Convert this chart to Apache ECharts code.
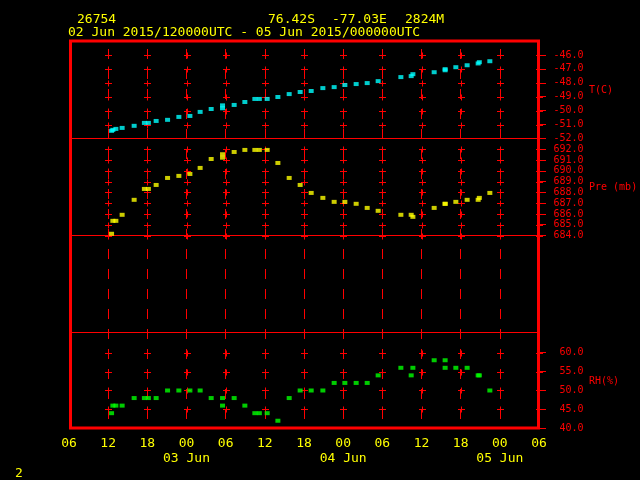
<!DOCTYPE html>
<html><head><meta charset="utf-8">
<script src="https://cdn.jsdelivr.net/npm/echarts@6/dist/echarts.min.js"></script>
<style>html,body{margin:0;padding:0;background:#000;}#c{width:640px;height:480px;}</style>
</head><body><div id="c"></div>
<script>
// hours since 02 Jun 2015 00 UTC
const hours = [12.52,12.72,13.18,14.14,15.98,17.55,18.16,19.35,21.10,22.83,24.52,26.09,27.78,29.52,29.52,31.30,32.94,34.47,35.16,36.36,38.00,39.73,41.41,43.10,44.89,46.62,48.26,49.99,51.68,53.36,56.84,58.42,58.68,61.94,63.62,63.62,65.26,66.99,68.68,68.86,70.47];
const tempC = [-51.45,-51.38,-51.31,-51.24,-51.09,-50.88,-50.88,-50.74,-50.66,-50.45,-50.38,-50.09,-49.88,-49.62,-49.83,-49.59,-49.38,-49.16,-49.16,-49.16,-49.02,-48.81,-48.66,-48.59,-48.38,-48.31,-48.16,-48.09,-48.02,-47.88,-47.59,-47.52,-47.38,-47.24,-47.10,-47.02,-46.88,-46.74,-46.61,-46.52,-46.45];
const presMb = [684.16,685.36,685.36,685.92,687.31,688.32,688.32,688.69,689.34,689.53,689.71,690.27,691.10,691.54,691.22,691.75,691.94,691.94,691.94,691.94,690.73,689.34,688.69,687.95,687.49,687.12,687.12,686.94,686.56,686.29,685.92,685.92,685.73,686.56,686.94,686.94,687.12,687.31,687.31,687.49,687.95];
const rhPct = [44,46,46,46,48,48,48,48,50,50,50,50,48,48,46,48,46,44,44,44,42,48,50,50,50,52,52,52,52,54,56,54,56,58,58,56,56,56,54,54,50];

const xTicks = [6,12,18,24,30,36,42,48,54,60,66,72,78];
const dateLabels = {24:'03 Jun', 48:'04 Jun', 72:'05 Jun'};
const tTicks = [-52,-51,-50,-49,-48,-47,-46];
const pTicks = [684,685,686,687,688,689,690,691,692];
const rhTicks = [40,45,50,55,60];
const pRefLine = 684;

const headerStation = '26754';
const headerLat = '76.42S', headerLon = '-77.03E', headerElev = '2824M';
const headerPeriod = '02 Jun 2015/120000UTC - 05 Jun 2015/000000UTC';

const MONO = '"DejaVu Sans Mono", "Liberation Mono", monospace';
const RED = '#ff0000', YEL = '#ffff00';

function pairs(ys){ return hours.map((h,i)=>[h, ys[i]]); }
function crosses(levels){
  const out = [];
  xTicks.filter(h=>h>6).forEach(h=>levels.forEach(v=>out.push([h,v])));
  return out;
}
function crossRender(params, api){
  const p = api.coord([api.value(0), api.value(1)]);
  const x = Math.round(p[0]) + 0.5, y = Math.round(p[1]) + 0.5;
  return {type:'group', children:[
    {type:'line', shape:{x1:x-3.5, y1:y, x2:x+3.5, y2:y}, style:{stroke:RED, lineWidth:1}},
    {type:'line', shape:{x1:x, y1:y-3, x2:x, y2:y+3}, style:{stroke:RED, lineWidth:1}}
  ]};
}
function pad(n){ n = ((n%24)+24)%24; return (n<10?'0':'') + n; }

const L = 69, W = 470;
const grids = [
  {left:L, top:42, width:W, height:386.3},      // frame / x labels / dashed verticals
  {left:L, top:42, width:W, height:96.5},       // T
  {left:L, top:138.5, width:W, height:194},     // Pre
  {left:L, top:332.5, width:W, height:95.8}     // RH
].map(g=>Object.assign({show:false, containLabel:false, outerBoundsMode:'none'}, g));

function hiddenX(gi){
  return {gridIndex:gi, type:'value', min:6, max:78, interval:6, show:false};
}
function rightY(gi, min, max, ticks){
  return {gridIndex:gi, type:'value', position:'right', min:min, max:max,
    axisLine:{show:false}, splitLine:{show:false},
    axisTick:{show:true, inside:false, length:7, customValues:ticks, lineStyle:{color:RED, width:1}},
    axisLabel:{show:true, customValues:ticks, color:RED, fontFamily:MONO, fontSize:10, align:'right', margin:44.5,
      formatter:v=>Number(v).toFixed(1)}};
}

const option = {
  backgroundColor:'#000',
  animation:false,
  grid: grids,
  xAxis: [
    {gridIndex:0, type:'value', min:6, max:78, interval:6,
      axisLine:{show:false}, axisTick:{show:false},
      axisLabel:{show:true, showMinLabel:true, showMaxLabel:true, color:YEL, fontFamily:MONO, fontSize:13, lineHeight:15, margin:8,
        formatter:v=>pad(v) + (dateLabels[v] ? '\n' + dateLabels[v] : '')},
      splitLine:{show:true, lineStyle:{color:RED, width:1, type:[10,10], dashOffset:13}}},
    hiddenX(1), hiddenX(2), hiddenX(3)
  ],
  yAxis: [
    {gridIndex:0, type:'value', min:0, max:1, show:false},
    rightY(1, -52, -45.07, tTicks),
    rightY(2, 675, 693, pTicks),
    rightY(3, 40, 65.34, rhTicks)
  ],
  series: [
    {type:'custom', xAxisIndex:1, yAxisIndex:1, data:crosses(tTicks.filter(v=>v>-52)), renderItem:crossRender, silent:true, z:1},
    {type:'custom', xAxisIndex:2, yAxisIndex:2, data:crosses(pTicks), renderItem:crossRender, silent:true, z:1},
    {type:'custom', xAxisIndex:3, yAxisIndex:3, data:crosses(rhTicks.filter(v=>v>40)), renderItem:crossRender, silent:true, z:1},
    {name:'T(C)', type:'scatter', xAxisIndex:1, yAxisIndex:1, data:pairs(tempC), symbol:'rect', symbolSize:[5,4],
      itemStyle:{color:'#00ffff'}, silent:true, z:5},
    {name:'Pre (mb)', type:'scatter', xAxisIndex:2, yAxisIndex:2, data:pairs(presMb), symbol:'rect', symbolSize:[5,4],
      itemStyle:{color:YEL}, silent:true, z:5,
      markLine:{silent:true, symbol:'none', label:{show:false}, animation:false,
        lineStyle:{color:RED, width:1, type:'solid'}, data:[{yAxis:pRefLine}]}},
    {name:'RH(%)', type:'scatter', xAxisIndex:3, yAxisIndex:3, data:pairs(rhPct), symbol:'rect', symbolSize:[5,4],
      itemStyle:{color:'#00ff00'}, silent:true, z:5}
  ],
  graphic: [
    {type:'rect', shape:{x:70.5, y:41, width:468, height:387}, style:{stroke:RED, fill:null, lineWidth:3}, z:100, silent:true},
    {type:'line', shape:{x1:70, y1:138.5, x2:538, y2:138.5}, style:{stroke:RED, lineWidth:1}, z:100, silent:true},
    {type:'line', shape:{x1:70, y1:332.5, x2:538, y2:332.5}, style:{stroke:RED, lineWidth:1}, z:100, silent:true},
    {type:'text', x:77, y:19.5, style:{text:headerStation, fill:YEL, font:'13px ' + MONO, verticalAlign:'middle'}},
    {type:'text', x:268, y:19.5, style:{text:headerLat, fill:YEL, font:'13px ' + MONO, verticalAlign:'middle'}},
    {type:'text', x:332, y:19.5, style:{text:headerLon, fill:YEL, font:'13px ' + MONO, verticalAlign:'middle'}},
    {type:'text', x:405, y:19.5, style:{text:headerElev, fill:YEL, font:'13px ' + MONO, verticalAlign:'middle'}},
    {type:'text', x:68, y:32.8, style:{text:headerPeriod, fill:YEL, font:'13px ' + MONO, verticalAlign:'middle'}},
    {type:'text', x:589, y:90.5, style:{text:'T(C)', fill:RED, font:'10px ' + MONO, verticalAlign:'middle'}},
    {type:'text', x:589, y:187, style:{text:'Pre (mb)', fill:RED, font:'10px ' + MONO, verticalAlign:'middle'}},
    {type:'text', x:589, y:381.5, style:{text:'RH(%)', fill:RED, font:'10px ' + MONO, verticalAlign:'middle'}},
    {type:'text', x:15, y:474, style:{text:'2', fill:YEL, font:'13px ' + MONO, verticalAlign:'middle'}}
  ]
};
const chart = echarts.init(document.getElementById('c'), null, {renderer:'canvas'});
chart.setOption(option);
</script></body></html>
